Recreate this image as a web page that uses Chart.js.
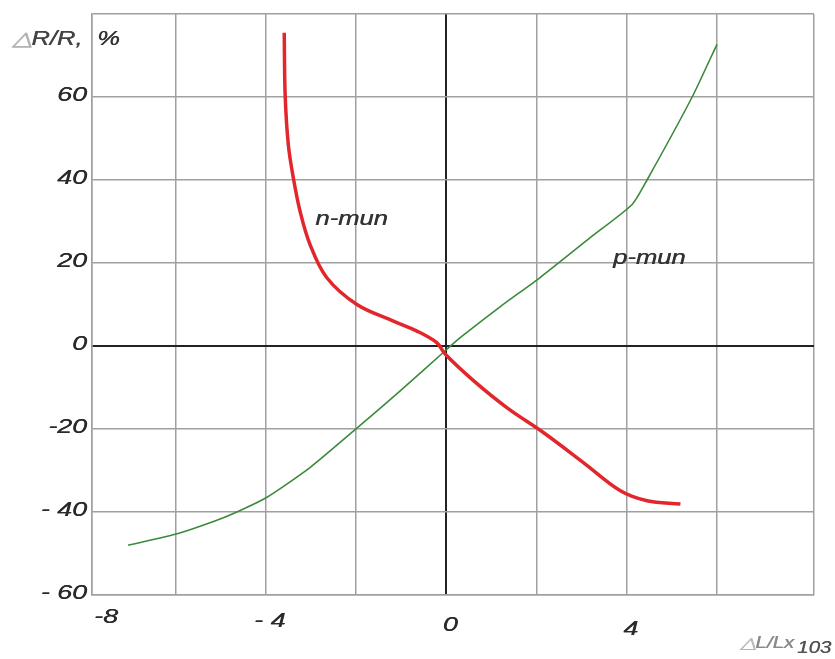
<!DOCTYPE html>
<html>
<head>
<meta charset="utf-8">
<script src="https://cdn.jsdelivr.net/npm/chart.js@4/dist/chart.umd.min.js"></script>
<style>
  html, body { margin: 0; padding: 0; background: #fff; }
  #wrap { width: 835px; height: 659px; }
</style>
</head>
<body>
<div id="wrap"><canvas id="chart" width="835" height="659"></canvas></div>
<script>
// n-mun (red) and p-mun (green)
const nMunX = [-3.59, -3.57, -3.5, -3.39, -3.24, -3.02, -2.65, -1.98, -1.17, -0.65, -0.21, -0.02, 0.61, 1.35, 2.16, 3.04, 3.86, 4.45, 5.19];
const nMunY = [75.5, 60.6, 48.6, 40.6, 32.5, 24.5, 16.5, 10, 6, 3.6, 0.8, -2, -8.4, -14.9, -20.9, -28.1, -34.9, -37.3, -38.1];
const pMunX = [-7.05, -5.94, -4.94, -4.01, -3.02, -1.98, -1.02, -0.06, 0.31, 1.2, 2.08, 3.19, 4.12, 4.45, 5.45, 6.0];
const pMunY = [-48, -45.2, -41.4, -36.7, -29.3, -19.8, -10.8, -1.5, 2, 9.5, 16.5, 26.1, 34.1, 40, 60, 72.7];

const yTickValues = [60, 40, 20, 0, -20, -40, -60];
const yTickLabels = ['60', '40', '20', '0', '-20', '- 40', '- 60'];
const xTickValues = [-8, -4, 0, 4];
const xTickLabels = ['-8', '- 4', '0', '4'];
const xGridValues = [-7.85, -6, -4, -2, 0, 2, 4, 6, 8.15];

const toPoints = (xs, ys) => xs.map((x, i) => ({ x, y: ys[i] }));

const SX = 1.28; // the original lettering is stretched sideways
function stretchedText(ctx, txt, x, y, align, color, size) {
  ctx.save();
  ctx.font = `italic ${size}px "Liberation Sans", Arial, sans-serif`;
  ctx.fillStyle = color;
  ctx.textBaseline = 'middle';
  const w = ctx.measureText(txt).width * SX;
  let left = x;
  if (align === 'right') left = x - w;
  else if (align === 'center') left = x - w / 2;
  ctx.translate(left, y);
  ctx.scale(SX, 1);
  ctx.textAlign = 'left';
  ctx.fillText(txt, 0, 0);
  // a second pass a hair to the right thickens the strokes a little
  ctx.fillText(txt, 0.4, 0);
  ctx.restore();
  return w;
}

const labelsPlugin = {
  id: 'labels',
  afterDraw(chart) {
    const { ctx, scales: { x, y } } = chart;
    yTickValues.forEach((v, i) => {
      stretchedText(ctx, yTickLabels[i], 87, y.getPixelForValue(v) - 2, 'right', '#2a2a2a', 21);
    });
    xTickValues.forEach((v, i) => {
      const px = Math.max(x.getPixelForValue(v), x.left + 10);
      stretchedText(ctx, xTickLabels[i], px + 4, y.bottom + 22 + i * 4, 'center', '#2a2a2a', 21);
    });

    // series names
    stretchedText(ctx, 'n-mun', x.getPixelForValue(-2.1), y.getPixelForValue(30.5), 'center', '#333', 20);
    stretchedText(ctx, 'p-mun', x.getPixelForValue(4.5), y.getPixelForValue(21), 'center', '#333', 20);

    // axis titles
    let px = 12;
    px += stretchedText(ctx, '△', px, 39, 'left', '#b0b0b0', 20);
    px += stretchedText(ctx, 'R/R,', px, 39, 'left', '#444', 20);
    stretchedText(ctx, '%', 97, 39, 'left', '#333', 20);

    px = 740;
    px += stretchedText(ctx, '△', px, 644, 'left', '#b5b5b5', 16);
    px += stretchedText(ctx, 'L/Lx', px, 644, 'left', '#8a8a8a', 16);
    stretchedText(ctx, '103', px + 3, 649, 'left', '#555', 16);
  }
};

const gridColor = ctx => ctx.tick && ctx.tick.value === 0 ? '#222' : '#a0a0a0';
const gridWidth = ctx => ctx.tick && ctx.tick.value === 0 ? 2 : 1.5;

new Chart(document.getElementById('chart'), {
  type: 'scatter',
  data: {
    datasets: [
      {
        label: 'n-mun',
        data: toPoints(nMunX, nMunY),
        showLine: true,
        borderColor: '#e2262b',
        borderWidth: 3.5,
        pointRadius: 0,
        tension: 0.35,
        fill: false,
      },
      {
        label: 'p-mun',
        data: toPoints(pMunX, pMunY),
        showLine: true,
        borderColor: '#3b8a3b',
        borderWidth: 1.6,
        pointRadius: 0,
        tension: 0.2,
        fill: false,
      },
    ],
  },
  options: {
    responsive: false,
    animation: false,
    events: [],
    layout: { padding: { left: 92, right: 21, top: 14, bottom: 64 } },
    plugins: { legend: { display: false }, tooltip: { enabled: false } },
    scales: {
      x: {
        type: 'linear',
        min: -7.85,
        max: 8.15,
        afterBuildTicks: s => { s.ticks = xGridValues.map(v => ({ value: v })); },
        ticks: { display: false },
        grid: { color: gridColor, lineWidth: gridWidth, drawTicks: false },
        border: { display: true, color: '#a0a0a0', width: 1.5 },
      },
      y: {
        type: 'linear',
        min: -60,
        max: 80,
        ticks: { display: false, stepSize: 20 },
        grid: { color: gridColor, lineWidth: gridWidth, drawTicks: false },
        border: { display: true, color: '#a0a0a0', width: 1.5 },
      },
    },
  },
  plugins: [labelsPlugin],
});
</script>
</body>
</html>
